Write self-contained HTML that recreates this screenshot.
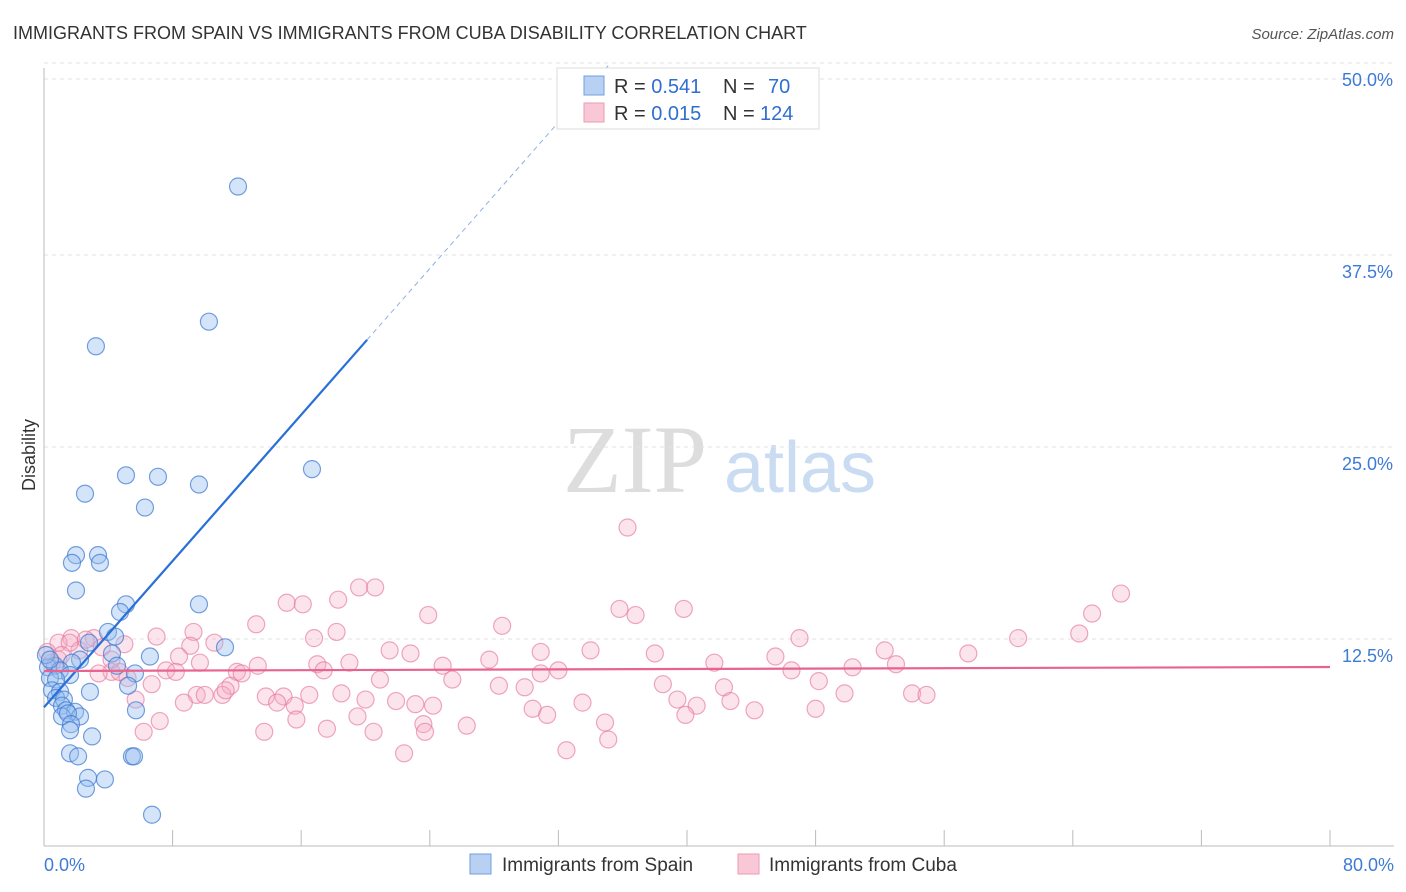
<!DOCTYPE html>
<html><head><meta charset="utf-8"><style>
body{margin:0;background:#fff;font-family:"Liberation Sans",sans-serif}
svg{display:block}
</style></head><body>
<svg width="1406" height="892">
<text x="13" y="39" font-size="18" fill="#333">IMMIGRANTS FROM SPAIN VS IMMIGRANTS FROM CUBA DISABILITY CORRELATION CHART</text>
<text x="1394" y="39" font-size="15" fill="#555" font-style="italic" text-anchor="end">Source: ZipAtlas.com</text>
<g>
<text x="635" y="492" font-size="96" fill="#ddd" font-family="Liberation Serif,serif" text-anchor="middle">ZIP</text>
<text x="800" y="492" font-size="72" fill="#c9dcf2" text-anchor="middle">atlas</text>
</g>
<g id="grid"></g>
<g id="axes"></g>
<g id="pts"></g>
<g id="trend"></g>
<text x="35" y="455" font-size="18" fill="#333" transform="rotate(-90 35 455)" text-anchor="middle">Disability</text>
<g>
<rect x="557" y="68" width="262" height="61" fill="#fff" stroke="#ddd"/>
<rect x="584" y="76" width="20" height="19" fill="#b8d1f3" stroke="#6f9fe0"/>
<rect x="584" y="103" width="20" height="19" fill="#f9c8d6" stroke="#ee9ab4"/>
<text x="614" y="93" font-size="20" fill="#333">R = <tspan fill="#2f6fd0">0.541</tspan><tspan x="723">N =</tspan><tspan x="768" fill="#2f6fd0">70</tspan></text>
<text x="614" y="120" font-size="20" fill="#333">R = <tspan fill="#2f6fd0">0.015</tspan><tspan x="723">N =</tspan><tspan x="760" fill="#2f6fd0">124</tspan></text>
</g>
<g>
<rect x="470" y="854" width="21" height="20" fill="#b8d1f3" stroke="#6f9fe0"/>
<text x="502" y="871" font-size="19" fill="#333">Immigrants from Spain</text>
<rect x="738" y="854" width="21" height="20" fill="#f9c8d6" stroke="#ee9ab4"/>
<text x="769" y="871" font-size="19" fill="#333">Immigrants from Cuba</text>
</g>
</svg>
<script>
const xTicks=[0,8,16,24,32,40,48,56,64,72,80];
const yTicks=[12.5,25,37.5,50];
const yTickLabels=["12.5%","25.0%","37.5%","50.0%"];
const xEndLabels=["0.0%","80.0%"];
const spainX=[12.07,10.26,3.23,16.67,5.10,7.09,9.64,2.55,6.28,1.99,3.36,1.74,3.48,1.99,5.10,9.64,4.73,3.98,4.42,2.80,11.26,6.59,4.23,2.24,0.68,1.74,4.54,0.25,0.99,5.66,1.62,0.37,0.75,5.23,0.50,1.00,2.86,0.75,1.24,1.12,1.37,1.93,2.24,1.12,1.49,5.72,1.68,1.62,2.99,1.62,2.12,5.47,5.60,2.74,3.79,2.61,6.72,0.12,0.37];
const spainY=[43.0,34.2,32.6,24.6,24.2,24.1,23.6,23.0,22.1,19.0,19.0,18.5,18.5,16.7,15.8,15.8,15.3,14.0,13.7,13.3,13.0,12.4,12.6,12.2,11.8,12.0,11.8,11.7,11.5,11.3,11.2,11.0,10.9,10.5,10.2,10.1,10.1,9.7,9.6,9.2,8.9,8.8,8.5,8.5,8.7,8.9,8.0,7.6,7.2,6.1,5.9,5.9,5.9,4.5,4.4,3.8,2.1,12.5,12.2];
const cubaX=[36.3,67.0,19.6,20.6,39.8,35.8,36.8,65.2,23.9,15.1,16.1,18.3,13.2,28.5,64.4,60.6,47.0,18.2,16.8,9.3,7.0,10.6,9.1,5.0,3.1,1.7,0.9,3.6,21.5,22.8,30.9,34.0,38.0,45.5,52.3,57.5,27.7,8.4,9.7,13.3,7.6,8.2,12.0,12.3,17.0,17.4,19.0,24.8,32.0,30.9,41.7,46.5,50.3,53.0,4.2,3.4,0.9,0.5,5.2,6.7,11.6,9.5,10.0,11.1,13.8,14.9,16.5,18.5,20.9,25.4,28.3,29.9,38.5,42.3,48.2,49.8,54.0,54.9,8.7,14.5,15.6,20.0,21.9,23.1,24.2,33.5,39.4,40.6,42.7,44.2,48.0,30.4,31.3,39.9,19.5,7.2,15.7,23.6,26.3,34.9,6.2,13.7,17.6,20.5,23.7,35.1,32.5,22.4,11.3,4.7,2.2,1.6,0.2,1.1,2.6,4.2,5.7];
const cubaY=[20.8,16.5,16.9,16.9,15.5,15.5,15.1,15.2,15.1,15.9,15.8,16.1,14.5,14.4,13.9,13.6,13.6,14.0,13.6,14.0,13.7,13.3,13.1,13.2,13.6,13.6,13.3,13.0,12.8,12.6,12.7,12.8,12.6,12.4,12.8,12.6,12.2,12.4,12.0,11.8,11.5,11.4,11.4,11.3,11.9,11.5,12.0,11.8,11.5,11.3,12.0,11.5,11.7,11.9,11.4,11.3,12.2,12.0,11.0,10.6,10.5,9.9,9.9,9.9,9.8,9.8,9.9,10.0,10.9,10.9,10.5,10.4,10.6,10.4,10.8,10.0,10.0,9.9,9.4,9.4,9.2,9.6,9.5,9.3,9.2,9.4,9.6,9.2,9.5,8.9,9.0,9.0,8.6,8.6,8.5,8.2,8.3,8.0,7.9,8.1,7.5,7.5,7.7,7.5,7.5,7.0,6.3,6.1,10.2,11.4,12.8,13.3,12.7,12.5,13.5,12.2,9.6];
const spainTrend=[9.1,1.19]; // intercept, slope
const spainSolidEnd=20.1;
const cubaTrend=[11.46,0.00325];

const NS="http://www.w3.org/2000/svg";
const X=v=>44+v/80*1286, Y=v=>847-v*15.36;
function mk(tag,attrs,parent){const e=document.createElementNS(NS,tag);for(const k in attrs)e.setAttribute(k,attrs[k]);parent.appendChild(e);return e;}
const grid=document.getElementById('grid'),axes=document.getElementById('axes'),pts=document.getElementById('pts'),tr=document.getElementById('trend'),svg=document.querySelector('svg');
yTicks.forEach((t,i)=>{
 const l=mk('line',{x1:44,x2:1394,y1:Y(t)-16,y2:Y(t)-16,stroke:'#e2e2e2','stroke-dasharray':'4,4'},grid);
 
 
 const tx=mk('text',{x:1393,y:Y(t)+7,'font-size':18,fill:'#3d7bd6','text-anchor':'end'},svg);
 tx.textContent=yTickLabels[i];
 
 
});
const g0=mk('line',{x1:44,x2:1394,y1:79,y2:79,stroke:'#e2e2e2','stroke-dasharray':'4,4'},grid);


const ya=mk('line',{x1:44,x2:44,y1:68,y2:846,stroke:'#bbb'},axes);


const xa=mk('line',{x1:44,x2:1394,y1:846,y2:846,stroke:'#bbb'},axes);


xTicks.forEach(t=>{
 const l=mk('line',{x1:X(t),x2:X(t),y1:830,y2:846,stroke:'#bbb'},axes);
 
 
});
[[0,'start',44],[80,'end',1394]].forEach((a,i)=>{
 const tx=mk('text',{x:a[2],y:871,'font-size':18,fill:'#3d7bd6','text-anchor':a[1]},svg);
 tx.textContent=xEndLabels[i];
 
 
});
cubaX.forEach((v,i)=>{
 const c=mk('circle',{cx:X(v),cy:Y(cubaY[i]),r:8.5,fill:'rgba(246,170,196,0.32)',stroke:'rgba(230,120,160,0.65)','stroke-width':1.2},pts);
 
 
});
spainX.forEach((v,i)=>{
 const c=mk('circle',{cx:X(v),cy:Y(spainY[i]),r:8.5,fill:'rgba(150,190,240,0.4)',stroke:'rgba(60,120,210,0.7)','stroke-width':1.2},pts);
 
 
});
const sy=x=>spainTrend[0]+spainTrend[1]*x;
const xEnd=(50.9-spainTrend[0])/spainTrend[1];
const s1=mk('line',{x1:X(0),y1:Y(sy(0)),x2:X(spainSolidEnd),y2:Y(sy(spainSolidEnd)),stroke:'#2a6fd6','stroke-width':2.2},tr);


const s2=mk('line',{x1:X(spainSolidEnd),y1:Y(sy(spainSolidEnd)),x2:X(xEnd),y2:Y(sy(xEnd)),stroke:'#8fb0e0','stroke-width':1,'stroke-dasharray':'5,4'},tr);


const c1=mk('line',{x1:X(0),y1:Y(cubaTrend[0]),x2:X(80),y2:Y(cubaTrend[0]+cubaTrend[1]*80),stroke:'#e8638f','stroke-width':2.2},tr);


</script>
</body></html>
